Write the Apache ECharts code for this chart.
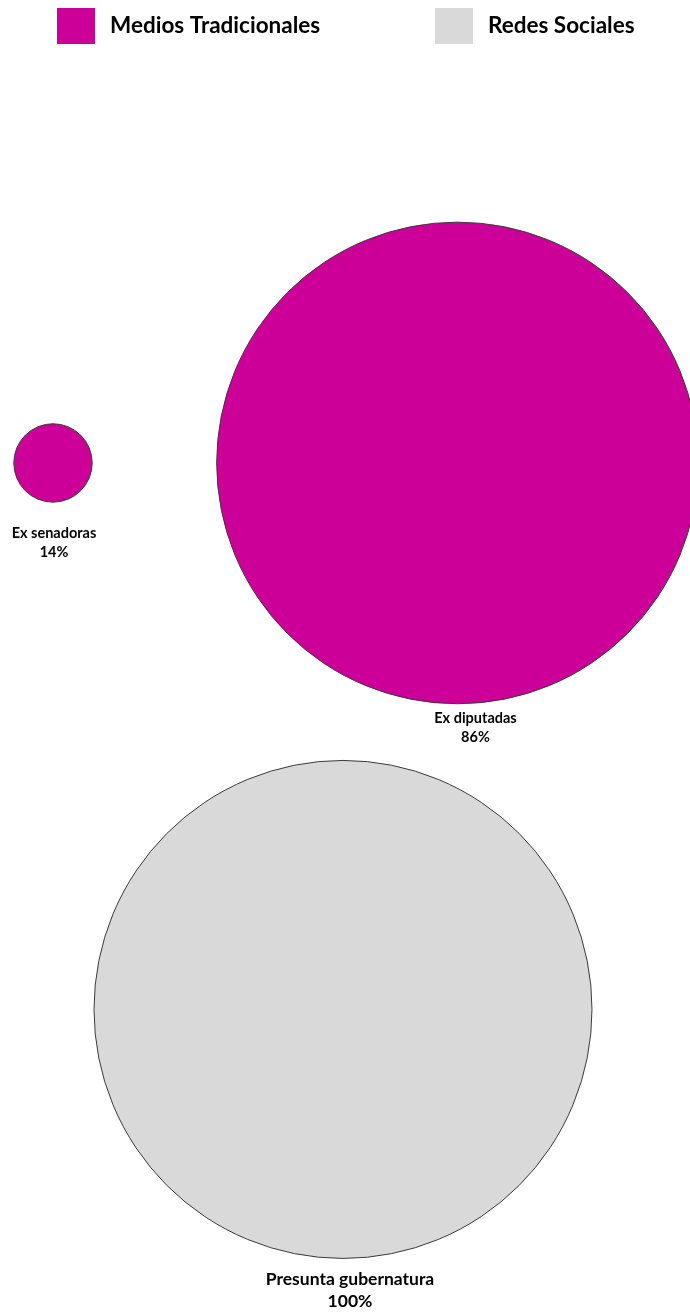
<!DOCTYPE html>
<html>
<head>
<meta charset="utf-8">
<script src="https://cdn.jsdelivr.net/npm/echarts@6/dist/echarts.min.js"></script>
<style>
  html, body { margin: 0; padding: 0; background: #ffffff; }
  #chart { width: 690px; height: 1313px; }
</style>
</head>
<body>
<div id="chart"></div>
<script>
// Share of mentions per group and media type
const categories = ['Ex senadoras', 'Ex diputadas', 'Presunta gubernatura'];
const mediaTypes = ['Medios Tradicionales', 'Medios Tradicionales', 'Redes Sociales'];
const values = [14, 86, 100];
const groups = ['Medios Tradicionales', 'Redes Sociales'];

// Layout: bubble anchors on a 0-100 canvas scale, label offsets, px per percentage point
const anchors = [[7.68, 64.74], [66.3, 64.74], [49.71, 23.12]];
const labelOffsets = [[1, 21], [18, 5], [7, 9]];
const labelFont = [14.5, 14.5, 17.5];
const labelLine = [19, 19, 22];
const pxPerPoint = { 'Medios Tradicionales': 5.6, 'Redes Sociales': 4.98 };
const colors = { 'Medios Tradicionales': '#CC0099', 'Redes Sociales': '#D9D9D9' };
const FONT = 'Lato';

const chart = echarts.init(document.getElementById('chart'), null, { renderer: 'canvas' });

const series = groups.map(g => ({
  name: g,
  type: 'scatter',
  clip: false,
  itemStyle: { color: colors[g], borderColor: '#3a3a3a', borderWidth: 1, opacity: 1 },
  emphasis: { disabled: true },
  data: categories.map((c, i) => ({ c, i })).filter(d => mediaTypes[d.i] === g).map(d => ({
    name: d.c,
    value: [anchors[d.i][0], anchors[d.i][1], values[d.i]],
    symbolSize: values[d.i] * pxPerPoint[g],
    label: {
      show: true,
      position: 'bottom',
      distance: labelOffsets[d.i][1],
      offset: [labelOffsets[d.i][0], 0],
      formatter: p => p.name + '\n' + p.value[2] + '%',
      fontFamily: FONT,
      fontWeight: 'bold',
      fontSize: labelFont[d.i],
      lineHeight: labelLine[d.i],
      color: '#000000',
      align: 'center'
    }
  }))
}));

chart.setOption({
  animation: false,
  backgroundColor: '#ffffff',
  grid: { left: 0, right: 0, top: 0, bottom: 0 },
  xAxis: { type: 'value', min: 0, max: 100, show: false },
  yAxis: { type: 'value', min: 0, max: 100, show: false },
  legend: groups.map((g, k) => ({
    data: [g],
    left: k === 0 ? 57 : 435,
    top: 8,
    padding: 0,
    itemWidth: 38,
    itemHeight: 36,
    icon: 'rect',
    selectedMode: false,
    itemStyle: { borderWidth: 0 },
    textStyle: { fontFamily: FONT, fontWeight: 'bold', fontSize: 22.5, color: '#000000', padding: [0, 0, 0, 10] }
  })),
  series
});
</script>
</body>
</html>
